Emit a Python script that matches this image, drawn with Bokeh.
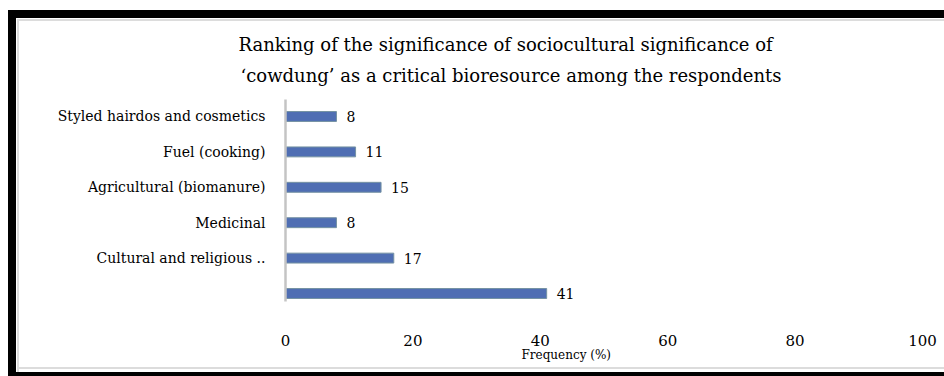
from bokeh.plotting import figure
from bokeh.models import FixedTicker, Range1d, ColumnDataSource, Title
from bokeh.embed import file_html
from bokeh.resources import INLINE
from bokeh.core.properties import value

# Data (bottom to top)
categories = ["", "Cultural and religious ..", "Medicinal", "Agricultural (biomanure)",
              "Fuel (cooking)", "Styled hairdos and cosmetics"]
frequency = [41, 17, 8, 15, 11, 8]
x_ticks = [0, 20, 40, 60, 80, 100]
title_lines = ["Ranking of the significance of sociocultural significance of",
               "\u2018cowdung\u2019 as a critical bioresource among the respondents"]
x_label = "Frequency (%)"

pos = list(range(len(categories)))
src = ColumnDataSource(dict(y=pos, v=frequency, t=[str(v) for v in frequency]))

p = figure(frame_width=637, frame_height=202,
           min_border_left=269, min_border_right=22, min_border_top=81, min_border_bottom=71,
           x_range=Range1d(0, 100), y_range=Range1d(-0.226, 5.48),
           output_backend="svg", toolbar_location=None)
p.border_fill_color = None
p.background_fill_color = None
p.outline_line_color = None
p.grid.visible = False

p.hbar(y="y", right="v", left=0, height=0.28, source=src,
       fill_color="#4f6eb3", line_color="#7592a3", line_width=1)
p.text(x="v", y="y", text="t", source=src, x_offset=10, text_baseline="middle",
       text_align="left", text_font=value("DejaVu Serif"), text_font_size="14px",
       text_color="black")

xa = p.xaxis[0]
xa.ticker = FixedTicker(ticks=x_ticks)
xa.axis_line_color = None
xa.major_tick_line_color = None
xa.minor_tick_line_color = None
xa.major_label_standoff = 27
xa.major_label_text_font = "DejaVu Serif"
xa.major_label_text_font_size = "15px"
xa.major_label_text_color = "black"

ya = p.yaxis[0]
ya.ticker = FixedTicker(ticks=pos)
ya.major_label_overrides = {i: c for i, c in zip(pos, categories)}
ya.axis_line_color = "#c4c4c4"
ya.axis_line_width = 2.5
ya.major_tick_line_color = None
ya.minor_tick_line_color = None
ya.major_label_standoff = 14
ya.major_label_text_font = "DejaVu Serif"
ya.major_label_text_font_size = "14px"
ya.major_label_text_color = "black"

# title: main title (outermost) = first line, extra Title (nearest frame) = second line
p.title.text = title_lines[0]
p.title.align = "left"
p.title.offset = -47
p.title.text_font = "DejaVu Serif"
p.title.text_font_size = "18px"
p.title.text_font_style = "normal"
p.title.text_color = "black"
p.title.standoff = -13
p.add_layout(Title(text=title_lines[1], align="left", offset=-45,
                   text_font="DejaVu Serif", text_font_size="18px",
                   text_font_style="normal", text_color="black", standoff=28), "above")

# x-axis label, shifted left of the frame centre as in the reference
p.add_layout(Title(text=x_label, align="left", offset=236,
                   text_font="DejaVu Serif", text_font_size="12px",
                   text_font_style="normal", text_color="black", standoff=-6), "below")

p.styles = {
    "margin-left": "8px", "margin-top": "10px",
    "border-left": "8px solid black", "border-top": "8px solid black",
    "border-bottom": "4px solid black",
    "box-shadow": "inset 1px 1px 0 #ffffff, inset 3px 3px 0 #dcdcdc, inset 0 -3px 0 #ffffff, inset 0 -5px 0 #dcdcdc",
}

open("out.html", "w").write(file_html(p, INLINE))
